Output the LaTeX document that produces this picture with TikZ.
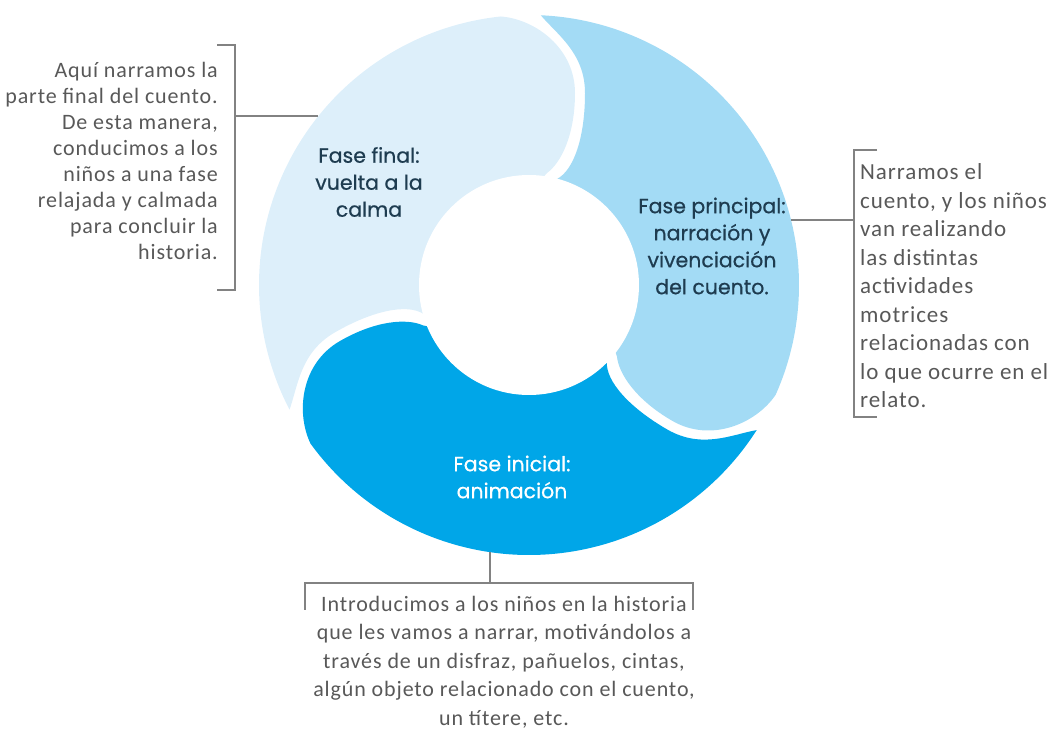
\documentclass[tikz,border=0pt]{standalone}
\usepackage{fontspec}
\setmainfont{Carlito}
\newfontfamily\descfamily{Carlito}[LetterSpace=4]
\newfontfamily\phasefamily{Poppins}[FakeBold=0.6]
\usetikzlibrary{calc}
\definecolor{segLight}{RGB}{221,239,250}
\definecolor{segMid}{RGB}{163,219,245}
\definecolor{segDark}{RGB}{0,166,232}
\definecolor{labelInk}{RGB}{30,60,80}
\definecolor{descInk}{RGB}{88,88,88}
\definecolor{bracketInk}{RGB}{130,130,130}
\begin{document}
\begin{tikzpicture}[x=1pt,y=1pt,
  phase/.style={font=\phasefamily\fontsize{20.5}{27}\selectfont, text=labelInk, align=center, inner sep=0pt},
  desc/.style={font=\descfamily\fontsize{22}{26}\selectfont, text=descInk, inner sep=0pt},
  descR/.style={font=\descfamily\fontsize{23}{28.5}\selectfont, text=descInk, inner sep=0pt},
  descB/.style={font=\descfamily\fontsize{22}{28.5}\selectfont, text=descInk, inner sep=0pt},
  bracketline/.style={draw=bracketInk, line width=1.5pt}]
\useasboundingbox (0,0) rectangle (1053,729);
\coordinate (C) at (529,444);
\foreach \k/\ang in {1/0,2/-120,3/-240}{
  \begin{scope}[shift={(C)}, rotate=\ang]
    % lobe edge (convex end of the segment before the divider)
    \coordinate (L0-\k) at (96:270);
    \coordinate (Lc1-\k) at (6,266);
    \coordinate (Lc2-\k) at (46,237);
    \coordinate (L1-\k) at (46,192);
    \coordinate (Lc3-\k) at (46,150);
    \coordinate (Lc4-\k) at (32,122);
    \coordinate (L2-\k) at (18,112);
    \coordinate (L3-\k) at (3,95);
    % concave edge (hollow end of the segment after the divider)
    \coordinate (K0-\k) at (87.5:270);
    \coordinate (Kc1-\k) at (27.8,250.7);
    \coordinate (Kc2-\k) at (56,232);
    \coordinate (K1-\k) at (56,192);
    \coordinate (Kc3-\k) at (56,148);
    \coordinate (Kc4-\k) at (45,115);
    \coordinate (K2-\k) at (28,106);
    \coordinate (K3-\k) at (10,95);
  \end{scope}
}
% segments
\fill[segMid] (L0-2) arc[start angle=-24, end angle=87.5, radius=270]
  .. controls (Kc1-1) and (Kc2-1) .. (K1-1) .. controls (Kc3-1) and (Kc4-1) .. (K2-1) -- (K3-1) -- (C)
  -- (L3-2) -- (L2-2) .. controls (Lc4-2) and (Lc3-2) .. (L1-2) .. controls (Lc2-2) and (Lc1-2) .. (L0-2) -- cycle;
\fill[segDark] (L0-3) arc[start angle=-144, end angle=-32.5, radius=270]
  .. controls (Kc1-2) and (Kc2-2) .. (K1-2) .. controls (Kc3-2) and (Kc4-2) .. (K2-2) -- (K3-2) -- (C)
  -- (L3-3) -- (L2-3) .. controls (Lc4-3) and (Lc3-3) .. (L1-3) .. controls (Lc2-3) and (Lc1-3) .. (L0-3) -- cycle;
\fill[segLight] (L0-1) arc[start angle=96, end angle=207.5, radius=270]
  .. controls (Kc1-3) and (Kc2-3) .. (K1-3) .. controls (Kc3-3) and (Kc4-3) .. (K2-3) -- (K3-3) -- (C)
  -- (L3-1) -- (L2-1) .. controls (Lc4-1) and (Lc3-1) .. (L1-1) .. controls (Lc2-1) and (Lc1-1) .. (L0-1) -- cycle;
\fill[white] (C) circle[radius=110];
% phase labels
\node[phase] (final) at (369,547) {Fase final:\\vuelta a la\\calma};
\node[phase] (principal) at (712,483) {Fase principal:\\narración y\\vivenciación\\del cuento.};
\node[phase, text=white] (inicial) at (512,252) {Fase inicial:\\animación};
% left callout
\coordinate (ringL) at (318,613);
\coordinate (lbJ) at (235,613);
\coordinate (lbT) at (235,684);
\coordinate (lbB) at (235,439);
\coordinate (lbTt) at (217,684);
\coordinate (lbBt) at (217,439);
\draw[bracketline] (lbTt) -- (lbT) -- (lbB) -- (lbBt);
\draw[bracketline] (lbJ) -- (ringL);
\node[desc, align=right, anchor=east] (leftText) at (218,568)
  {Aquí narramos la\\parte final del cuento.\\De esta manera,\\conducimos a los\\niños a una fase\\relajada y calmada\\para concluir la\\historia.};
% right callout
\coordinate (ringR) at (791,509);
\coordinate (rbJ) at (854,509);
\coordinate (rbT) at (854,579);
\coordinate (rbB) at (854,312);
\coordinate (rbTt) at (877,579);
\coordinate (rbBt) at (877,312);
\draw[bracketline] (rbTt) -- (rbT) -- (rbB) -- (rbBt);
\draw[bracketline] (ringR) -- (rbJ);
\node[descR, align=left, anchor=west] (rightText) at (860,443)
  {Narramos el\\cuento, y los niños\\van realizando\\las distintas\\actividades\\motrices\\relacionadas con\\lo que ocurre en el\\relato.};
% bottom callout
\coordinate (ringB) at (490,177);
\coordinate (bbJ) at (490,146);
\coordinate (bbL) at (305,146);
\coordinate (bbR) at (693,146);
\coordinate (bbLt) at (305,119);
\coordinate (bbRt) at (693,119);
\draw[bracketline] (bbLt) -- (bbL) -- (bbR) -- (bbRt);
\draw[bracketline] (ringB) -- (bbJ);
\node[descB, align=center] (bottomText) at (504,67)
  {Introducimos a los niños en la historia\\que les vamos a narrar, motivándolos a\\través de un disfraz, pañuelos, cintas,\\algún objeto relacionado con el cuento,\\un títere, etc.};
\end{tikzpicture}
\end{document}
